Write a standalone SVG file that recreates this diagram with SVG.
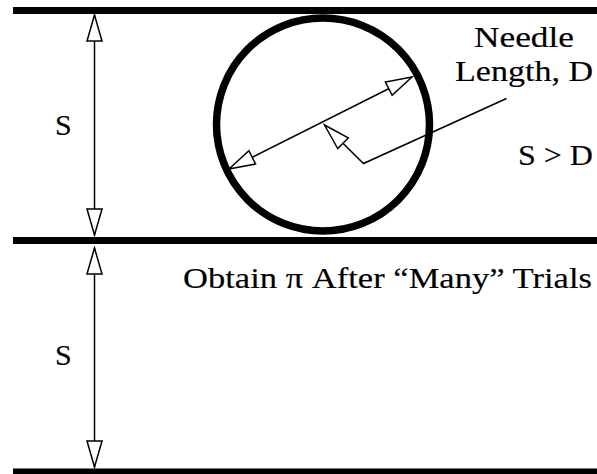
<svg xmlns="http://www.w3.org/2000/svg" width="597" height="474" viewBox="0 0 597 474">
<style>
.bar{fill:#000}
.ln{fill:none;stroke:#000;stroke-width:1.5}
.t{font-family:"Liberation Serif","Times New Roman",serif;font-size:30px;fill:#000;stroke:#000;stroke-width:0.15}
</style>
<defs>
<marker id="ah" markerUnits="userSpaceOnUse" markerWidth="30" markerHeight="20" viewBox="-28 -10 30 20" refX="0" refY="0" orient="auto-start-reverse">
<path d="M0,0 L-26,-7.5 L-26,7.5 Z" fill="#fff" stroke="#000" stroke-width="1.5" stroke-linejoin="miter"/>
</marker>
</defs>
<rect width="597" height="474" fill="#fff"/>
<g id="lines">
<rect class="bar" x="13" y="7" width="584" height="7"/>
<rect class="bar" x="13" y="237" width="584" height="7"/>
<rect class="bar" x="13" y="468.5" width="584" height="6"/>
</g>
<g id="circle">
<circle cx="323" cy="124.5" r="106.5" fill="none" stroke="#000" stroke-width="7.5"/>
</g>
<g id="connectors">
<line class="ln" x1="94.5" y1="15" x2="94.5" y2="235" marker-start="url(#ah)" marker-end="url(#ah)"/>
<line class="ln" x1="94.5" y1="248" x2="94.5" y2="467" marker-start="url(#ah)" marker-end="url(#ah)"/>
<line class="ln" x1="229" y1="169" x2="412" y2="77" marker-start="url(#ah)" marker-end="url(#ah)"/>
<polyline class="ln" points="506.5,98.5 363.5,163.5 324.5,125" marker-end="url(#ah)"/>
</g>
<g id="labels">
<text class="t" x="55" y="135">S</text>
<text class="t" x="55" y="365">S</text>
<text class="t" x="474" y="47" textLength="100" lengthAdjust="spacingAndGlyphs">Needle</text>
<text class="t" x="455" y="81" textLength="138" lengthAdjust="spacingAndGlyphs">Length, D</text>
<text class="t" x="518" y="165" textLength="75" lengthAdjust="spacingAndGlyphs">S &gt; D</text>
<text class="t" x="183" y="288" textLength="409" lengthAdjust="spacingAndGlyphs">Obtain π After “Many” Trials</text>
</g>
</svg>
